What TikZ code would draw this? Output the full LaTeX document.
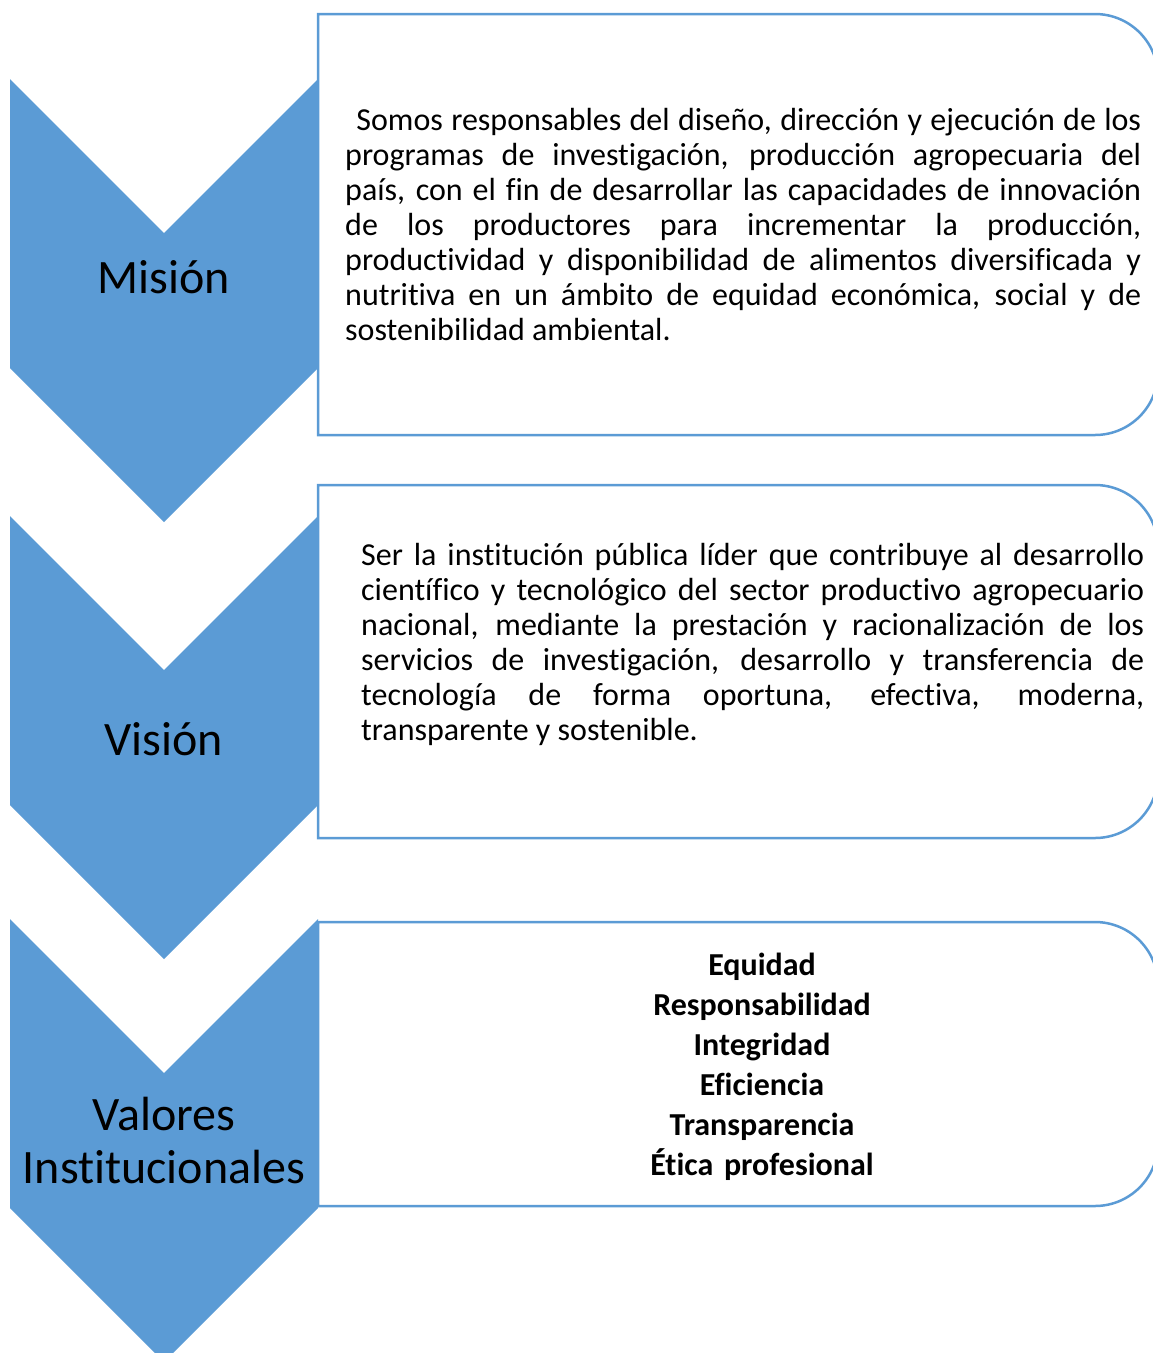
\documentclass[tikz,border=0pt]{standalone}
\usepackage{fontspec}
\setmainfont{Carlito}[Ligatures={NoCommon}]
\definecolor{smartblue}{RGB}{91,155,213}

\begin{document}
\begin{tikzpicture}[x=1pt, y=-1pt,
    chevron/.style={fill=smartblue, draw=none},
    panel/.style={draw=smartblue, line width=2.5pt, fill=white},
    steplabel/.style={inner sep=0pt, anchor=base, font=\fontsize{48}{53}\selectfont},
    paneltext/.style={inner sep=0pt, anchor=north west, align=justify, font=\fontsize{32}{35}\selectfont},
    valuetext/.style={inner sep=0pt, anchor=north, align=center, text width=400pt, font=\fontsize{32}{40}\selectfont\bfseries}]
    \useasboundingbox (0,0) rectangle (1153,1353);
    \clip (0,0) rectangle (1153,1353);

    % panels on the right
    \draw[panel] (318,14) -- (1095,14) arc[start angle=-90, end angle=0, radius=63] -- (1158,372) arc[start angle=0, end angle=90, radius=63] -- (318,435) -- cycle;
    \draw[panel] (318,485) -- (1095,485) arc[start angle=-90, end angle=0, radius=63] -- (1158,775) arc[start angle=0, end angle=90, radius=63] -- (318,838) -- cycle;
    \draw[panel] (318,922) -- (1095,922) arc[start angle=-90, end angle=0, radius=63] -- (1158,1143) arc[start angle=0, end angle=90, radius=63] -- (318,1206) -- cycle;

    % chevrons on the left
    \fill[chevron] (10,79) -- (164,233) -- (318,79) -- (318,368) -- (164,522) -- (10,368) -- cycle;
    \fill[chevron] (10,516) -- (164,670) -- (318,516) -- (318,805) -- (164,959) -- (10,805) -- cycle;
    \fill[chevron] (10,919) -- (164,1073) -- (318,919) -- (318,1208) -- (164,1362) -- (10,1208) -- cycle;

    \node[steplabel] (mision) at (164,293) {Misión};
    \node[steplabel] (vision) at (164,755) {Visión};
    \node[steplabel, anchor=north, align=center, text width=310pt] (valores) at (164,1093) {\strut Valores\\Institucionales};

    \node[paneltext, text width=796pt] (misiontxt) at (345,105.5) {\noindent\strut\hspace*{0.35em}Somos responsables del diseño, dirección y ejecución de los\linebreak
      programas de investigación, producción agropecuaria del\linebreak
      país, con el fin de desarrollar las capacidades de innovación\linebreak
      de los productores para incrementar la producción,\linebreak
      productividad y disponibilidad de alimentos diversificada y\linebreak
      nutritiva en un ámbito de equidad económica, social y de\linebreak
      sostenibilidad ambiental.};
    \node[paneltext, text width=783pt] (visiontxt) at (361,540.5) {\noindent\strut Ser la institución pública líder que contribuye al desarrollo\linebreak
      científico y tecnológico del sector productivo agropecuario\linebreak
      nacional, mediante la prestación y racionalización de los\linebreak
      servicios de investigación, desarrollo y transferencia de\linebreak
      tecnología de forma oportuna, efectiva, moderna,\linebreak
      transparente y sostenible.};
    \node[valuetext] (valorestxt) at (762,947) {\strut Equidad\\Responsabilidad\\Integridad\\Eficiencia\\Transparencia\\Ética profesional};
\end{tikzpicture}
\end{document}
